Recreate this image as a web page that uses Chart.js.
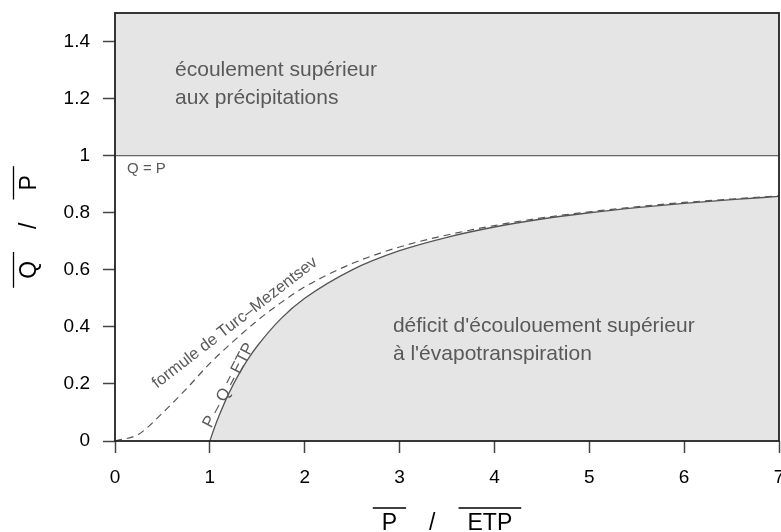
<!DOCTYPE html>
<html>
<head>
<meta charset="utf-8">
<script src="https://cdn.jsdelivr.net/npm/chart.js@4.4.0/dist/chart.umd.min.js"></script>
<style>
  body { margin: 0; background: #fff; }
  #wrap { position: relative; width: 781px; height: 532px; }
</style>
</head>
<body>
<div id="wrap"><canvas id="chart"></canvas></div>
<script>
// =========================================================
// DONNÉES
// =========================================================
const xTicks = [0, 1, 2, 3, 4, 5, 6, 7];
const yTicks = [0, 0.2, 0.4, 0.6, 0.8, 1, 1.2, 1.4];

// limite Q = P
const limitX = [0, 7];
const limitY = [1, 1];

// P - Q = ETP
const deficitX = [1, 1.05, 1.1, 1.2, 1.3, 1.4, 1.5, 1.75, 2, 2.5, 3, 3.5, 4, 4.5, 5, 5.5, 6, 6.5, 7];
const deficitY = [0, 0.048, 0.091, 0.167, 0.231, 0.286, 0.333, 0.429, 0.5, 0.6, 0.667, 0.714, 0.75, 0.778, 0.8, 0.818, 0.833, 0.846, 0.857];

// formule de Turc-Mezentsev
const turcX = [0, 0.25, 0.5, 0.75, 1, 1.25, 1.5, 1.75, 2, 2.5, 3, 3.5, 4, 4.5, 5, 5.5, 6, 6.5, 7];
const turcY = [0, 0.024, 0.098, 0.182, 0.272, 0.35, 0.422, 0.485, 0.54, 0.622, 0.68, 0.722, 0.755, 0.782, 0.803, 0.821, 0.836, 0.848, 0.859];

const FONT = '"Liberation Sans", Arial, sans-serif';
const FILL = "#e5e5e5";

// textes dans le graphique (coordonnées en unités des axes)
const notes = [
  { text: "écoulement supérieur", x: 0.633, y: 1.279, size: 21, angle: 0 },
  { text: "aux précipitations", x: 0.633, y: 1.181, size: 21, angle: 0 },
  { text: "Q = P", x: 0.127, y: 0.939, size: 15, angle: 0 },
  { text: "déficit d'écoulouement supérieur", x: 2.93, y: 0.382, size: 21, angle: 0 },
  { text: "à l'évapotranspiration", x: 2.93, y: 0.284, size: 21, angle: 0 },
  { text: "formule de Turc–Mezentsev", x: 0.443, y: 0.183, size: 16.5, angle: -37.7 },
  { text: "P – Q = ETP", x: 1.015, y: 0.043, size: 16.5, angle: -62.5 },
];

const toPoints = (xs, ys) => xs.map((v, i) => ({ x: v, y: ys[i] }));

// titre avec barres au-dessus des termes
function drawOverTitle(ctx, words) {
  ctx.font = "23px " + FONT;
  ctx.fillStyle = "#000";
  ctx.strokeStyle = "#000";
  ctx.lineWidth = 1.3;
  ctx.textAlign = "left";
  ctx.textBaseline = "alphabetic";
  const gap = 32;
  const w = words.map((t) => ctx.measureText(t).width);
  const total = w.reduce((s, v) => s + v, 0) + gap * (words.length - 1);
  let pos = -total / 2;
  words.forEach((t, i) => {
    ctx.fillText(t, pos, 0);
    if (t !== "/") {
      ctx.beginPath();
      ctx.moveTo(pos - 9, -22);
      ctx.lineTo(pos + w[i] + 9, -22);
      ctx.stroke();
    }
    pos += w[i] + gap;
  });
}

const decorPlugin = {
  id: "decor",
  afterDatasetsDraw(chart) {
    const { ctx, chartArea: a, scales } = chart;
    ctx.save();
    ctx.fillStyle = "#595959";
    notes.forEach((n) => {
      ctx.save();
      ctx.font = n.size + "px " + FONT;
      ctx.textAlign = "left";
      ctx.textBaseline = "alphabetic";
      ctx.translate(scales.x.getPixelForValue(n.x), scales.y.getPixelForValue(n.y));
      ctx.rotate((n.angle * Math.PI) / 180);
      ctx.fillText(n.text, 0, 0);
      ctx.restore();
    });
    ctx.strokeStyle = "#222";
    ctx.lineWidth = 1.8;
    ctx.strokeRect(a.left, a.top, a.right - a.left, a.bottom - a.top);
    ctx.restore();
  },
  afterDraw(chart) {
    const { ctx, chartArea: a } = chart;
    ctx.save();
    ctx.translate((a.left + a.right) / 2, 530);
    drawOverTitle(ctx, ["P", "/", "ETP"]);
    ctx.restore();

    ctx.save();
    ctx.translate(35.5, (a.top + a.bottom) / 2);
    ctx.rotate(-Math.PI / 2);
    drawOverTitle(ctx, ["Q", "/", "P"]);
    ctx.restore();
  },
};

const fmt = (v) => String(Number(v.toFixed(1)));

new Chart(document.getElementById("chart"), {
  type: "line",
  plugins: [decorPlugin],
  data: {
    datasets: [
      {
        data: toPoints(limitX, limitY),
        borderColor: "#666",
        borderWidth: 1.3,
        backgroundColor: FILL,
        fill: "end",
        pointRadius: 0,
      },
      {
        data: toPoints(deficitX, deficitY),
        borderColor: "#555",
        borderWidth: 1.3,
        backgroundColor: FILL,
        fill: "origin",
        pointRadius: 0,
        cubicInterpolationMode: "monotone",
      },
      {
        data: toPoints(turcX, turcY),
        borderColor: "#555",
        borderWidth: 1.2,
        borderDash: [7, 5],
        fill: false,
        pointRadius: 0,
        cubicInterpolationMode: "monotone",
      },
    ],
  },
  options: {
    responsive: true,
    maintainAspectRatio: false,
    animation: false,
    layout: { padding: { top: 13, right: 2, left: 0, bottom: 0 } },
    plugins: { legend: { display: false }, tooltip: { enabled: false } },
    scales: {
      x: {
        type: "linear",
        min: 0,
        max: 7,
        afterBuildTicks: (s) => { s.ticks = xTicks.map((v) => ({ value: v })); },
        afterFit: (s) => { s.height = 91; s.paddingLeft = 0; s.paddingRight = 0; },
        ticks: { color: "#000", font: { family: FONT, size: 19 }, padding: 13, callback: fmt, maxRotation: 0 },
        grid: { drawOnChartArea: false, drawTicks: true, tickLength: 12, tickColor: "#444", tickWidth: 1.5 },
        border: { display: false },
      },
      y: {
        type: "linear",
        min: 0,
        max: 1.5,
        afterBuildTicks: (s) => { s.ticks = yTicks.map((v) => ({ value: v })); },
        afterFit: (s) => { s.width = 115; s.paddingTop = 0; s.paddingBottom = 0; },
        ticks: { color: "#000", font: { family: FONT, size: 19 }, padding: 13, callback: fmt },
        grid: { drawOnChartArea: false, drawTicks: true, tickLength: 12, tickColor: "#444", tickWidth: 1.5 },
        border: { display: false },
      },
    },
  },
});
</script>
</body>
</html>
